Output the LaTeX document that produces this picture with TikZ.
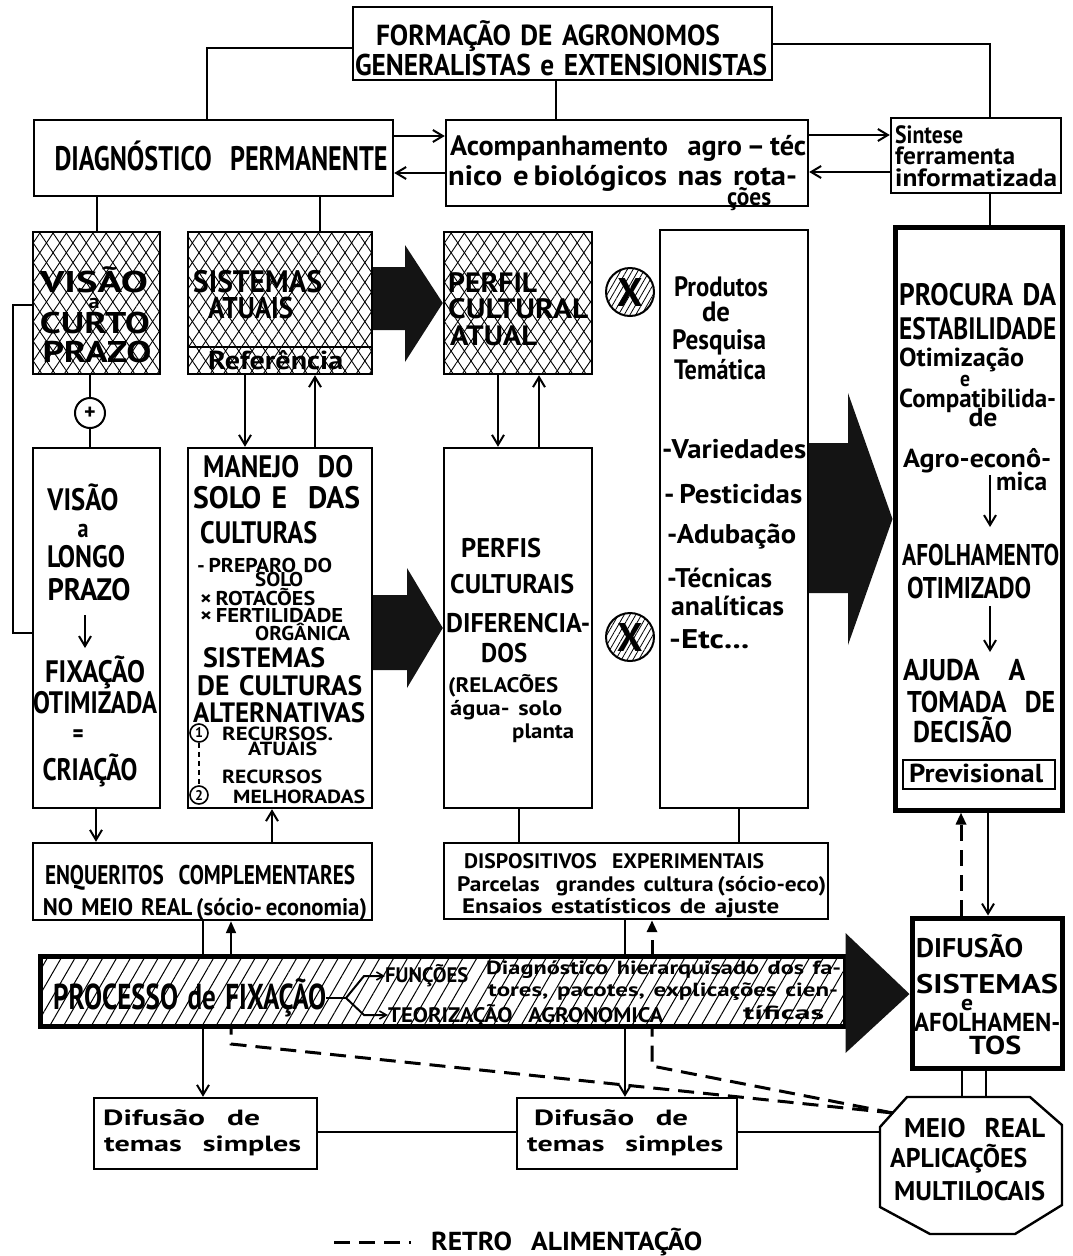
\documentclass[tikz,border=0pt]{standalone}
\usepackage{fontspec}
\setmainfont{PT Sans}
\usetikzlibrary{arrows.meta,patterns.meta,fit,calc}

% text set at a given size and squeezed to a given width
\newlength\fitlen
\newcommand\fitw[2]{\settowidth\fitlen{#2}\pgfmathsetmacro\fitr{#1/\fitlen}\scalebox{\fitr}[1]{#2}}
\newcommand\wsp{\hspace{0.35em}}
% \putc{name}{x centre}{baseline}{size}{width}{text}, \putl with left edge
\newcommand\putc[6]{\node[anchor=base,inner sep=0pt] (#1) at (#2,#3) {\fontsize{#4}{#4}\selectfont\bfseries\fitw{#5}{#6}};}
\newcommand\putl[6]{\node[anchor=base west,inner sep=0pt] (#1) at (#2,#3) {\fontsize{#4}{#4}\selectfont\bfseries\fitw{#5}{#6}};}

\tikzset{
  ln/.style={line width=2pt},
  arr/.style={ln,-{Straight Barb[length=10pt,width=12pt,line width=2pt]}},
  arrs/.style={ln,-{Triangle[length=12pt,width=10pt]}},
  fb/.style={line width=3pt,dash pattern=on 16pt off 9pt},
  box/.style={draw,line width=2.4pt,inner sep=0pt},
  tbox/.style={draw,line width=5pt,inner sep=0pt},
  xhatch/.style={postaction={pattern={Lines[angle=56,distance=11pt,line width=0.9pt]}},
                 postaction={pattern={Lines[angle=-56,distance=11pt,line width=0.9pt]}}},
  shatch/.style={pattern={Lines[angle=60,distance=12pt,line width=1pt]}},
  bigarrow/.style={fill=black!92},
}

\begin{document}
\begin{tikzpicture}[x=1pt,y=-1pt]
\fill[white] (0,0) rectangle (1072,1256);
\useasboundingbox (0,0) rectangle (1072,1256);

% ---------- boxes ----------
\node[box,fit={(353,7)(772,80)}] (top) {};
\node[box,fit={(34,120)(393,196)}] (diag) {};
\node[box,fit={(446,120)(808,206)}] (acomp) {};
\node[box,fit={(891,118)(1061,193)}] (sint) {};

\node[box,xhatch,fit={(33,232)(160,374)}] (vcurto) {};
\node[box,xhatch,fit={(188,232)(372,374)}] (sist) {};
\node[box,xhatch,fit={(444,232)(592,374)}] (pcult) {};
\node[box,fit={(660,230)(808,808)}] (prod) {};
\node[tbox,fit={(895,227)(1062,810)}] (proc) {};

\node[box,fit={(33,448)(160,808)}] (vlongo) {};
\node[box,fit={(188,448)(372,808)}] (manejo) {};
\node[box,fit={(444,448)(592,808)}] (perfis) {};

\node[box,fit={(33,843)(372,920)}] (enq) {};
\node[box,fit={(444,843)(828,919)}] (disp) {};
\node[tbox,fit={(912,918)(1062,1068)}] (difus) {};

\node[box,fit={(94,1098)(317,1169)}] (dif1) {};
\node[box,fit={(517,1098)(737,1169)}] (dif2) {};

% real-environment octagon
\draw[box] (907,1097) -- (1030,1097) -- (1062,1125) -- (1062,1205) -- (1015,1234)
  -- (930,1234) -- (880,1207) -- (880,1127) -- cycle;
\node[inner sep=0pt,fit={(880,1097)(1062,1234)}] (oct) {};
\coordinate (fbend) at (893,1113);

% reference strip under current systems
\draw[ln] (sist.west |- 0,347) -- (sist.east |- 0,347);

% circles
\node[draw,circle,line width=2pt,minimum size=30pt,inner sep=0pt,fill=white] (plus) at (90,413) {};
\node (plust) at (plus) {\fontsize{22}{22}\selectfont\bfseries +};
\node[draw,circle,line width=2pt,minimum size=48pt,inner sep=0pt,
      pattern={Lines[angle=60,distance=5pt,line width=0.8pt]}] (cx1) at (630,292) {};
\node (cx1t) at (cx1) {\fontsize{40}{40}\selectfont\bfseries X};
\node[draw,circle,line width=2pt,minimum size=48pt,inner sep=0pt,
      pattern={Lines[angle=60,distance=5pt,line width=0.8pt]}] (cx2) at (630,637) {};
\node (cx2t) at (cx2) {\fontsize{40}{40}\selectfont\bfseries X};

% prevision box
\node[box,line width=2pt,fit={(903,760)(1055,789)}] (prev) {};

% ---------- big arrows ----------
\fill[bigarrow] (sist.east |- 0,267) -- (405,267) -- (405,245) -- (pcult.west |- 0,303)
  -- (405,362) -- (405,330) -- (sist.east |- 0,330) -- cycle;
\fill[bigarrow] (manejo.east |- 0,595) -- (407,595) -- (407,568) -- (perfis.west |- 0,628)
  -- (407,688) -- (407,670) -- (manejo.east |- 0,670) -- cycle;
\fill[bigarrow] (prod.east |- 0,443) -- (848,443) -- (848,393) -- (proc.west |- 0,519)
  -- (848,645) -- (848,593) -- (prod.east |- 0,593) -- cycle;

% ---------- connectors ----------
\draw[ln] (top.west |- 0,48) -| (diag.north -| 207,0);
\draw[ln] (top.south -| 556,0) -- (acomp.north -| 556,0);
\draw[ln] (top.east |- 0,44) -| (sint.north -| 990,0);
\draw[arr] (diag.east |- 0,136) -- (acomp.west |- 0,136);
\draw[arr] (acomp.west |- 0,173) -- (diag.east |- 0,173);
\draw[arr] (acomp.east |- 0,135) -- (sint.west |- 0,135);
\draw[arr] (sint.west |- 0,172) -- (acomp.east |- 0,172);
\draw[ln] (diag.south -| 97,0) -- (vcurto.north -| 97,0);
\draw[ln] (diag.south -| 320,0) -- (sist.north -| 320,0);
\draw[ln] (sint.south -| 990,0) -- (proc.north -| 990,0);
\draw[ln] (vcurto.south -| 90,0) -- (plus);
\draw[ln] (plus) -- (vlongo.north -| 90,0);
\draw[ln] (vcurto.west |- 0,305) -- (13,305) |- (vlongo.west |- 0,633);
\draw[arr] (sist.south -| 245,0) -- (manejo.north -| 245,0);
\draw[arr] (manejo.north -| 315,0) -- (sist.south -| 315,0);
\draw[arr] (pcult.south -| 498,0) -- (perfis.north -| 498,0);
\draw[arr] (perfis.north -| 539,0) -- (pcult.south -| 539,0);
\draw[arr] (vlongo.south -| 96,0) -- (enq.north -| 96,0);
\draw[arr] (enq.north -| 272,0) -- (manejo.south -| 272,0);
\draw[ln] (perfis.south -| 519,0) -- (disp.north -| 519,0);
\draw[ln] (prod.south -| 739,0) -- (disp.north -| 739,0);
\draw[arr] (proc.south -| 988,0) -- (difus.north -| 988,0);
\draw[fb,-{Triangle[length=12pt,width=10pt]}] (difus.north -| 961,0) -- (proc.south -| 961,0);
\draw[ln] (difus.south -| 962,0) -- (oct.north -| 962,0);
\draw[ln] (difus.south -| 986,0) -- (oct.north -| 986,0);

% feedback from the real environment
\draw[fb] (fbend) -- (231,1044) -- (231,1026);
\draw[fb] (fbend) -- (652,1066) -- (652,1026);

% ---------- fixation process bar ----------
\node[tbox,fit={(40,956)(845,1026)},preaction={fill=white},shatch] (bar) {};
\fill[bigarrow] (bar.east |- 0,933) -- (difus.west |- 0,994) -- (bar.east |- 0,1053) -- cycle;
\draw[ln] (enq.south -| 203,0) -- (bar.north -| 203,0);
\draw[arrs] (bar.north -| 231,0) -- (enq.south -| 231,0);
\draw[ln] (disp.south -| 625,0) -- (bar.north -| 625,0);
\draw[fb,-{Triangle[length=12pt,width=10pt]}] (bar.north -| 652,0) -- (disp.south -| 652,0);
\draw[arr] (bar.south -| 203,0) -- (dif1.north -| 203,0);
\draw[arr] (bar.south -| 625,0) -- (dif2.north -| 625,0);
\draw[ln] (dif1.east |- 0,1132) -- (dif2.west |- 0,1132);
\draw[ln] (dif2.east |- 0,1132) -- (oct.west |- 0,1132);

% legend
\coordinate (lgA) at (334,1242);
\coordinate (lgB) at (411,1242);
\draw[fb] (lgA) -- (lgB);

% ---------- texts ----------
\putc{tA}{548}{45}{29}{344}{FORMAÇÃO\wsp DE\wsp AGRONOMOS}
\putc{tB}{561}{75}{30}{412}{GENERALISTAS\wsp e\wsp EXTENSIONISTAS}
\putc{dg}{221}{170}{34}{333}{DIAGNÓSTICO\wsp\wsp PERMANENTE}
\putl{ac1}{450}{155}{28}{356}{Acompanhamento\wsp\wsp agro\,–\,téc}
\putl{ac2}{448}{185}{28}{349}{nico\wsp e\,biológicos\wsp nas\wsp rota-}
\putl{ac3}{727}{205}{25}{44}{ções}
\putl{si1}{895}{143}{25}{68}{Sintese}
\putl{si2}{895}{164}{25}{120}{ferramenta}
\putl{si3}{895}{186}{25}{162}{informatizada}

\putc{vc1}{94}{292}{30}{108}{VISÃO}
\putc{vc2}{94}{308}{20}{11}{a}
\putc{vc3}{95}{333}{30}{110}{CURTO}
\putc{vc4}{97}{362}{30}{109}{PRAZO}
\putl{sa1}{193}{292}{31}{129}{SISTEMAS}
\putl{sa2}{208}{318}{30}{85}{ATUAIS}
\putl{sa3}{208}{369}{26}{135}{Referência}
\putl{pc1}{448}{292}{28}{89}{PERFIL}
\putl{pc2}{448}{318}{28}{140}{CULTURAL}
\putl{pc3}{450}{345}{28}{87}{ATUAL}

\putc{pr1}{721}{296}{28}{94}{Produtos}
\putc{pr2}{716}{321}{28}{28}{de}
\putc{pr3}{719}{349}{28}{94}{Pesquisa}
\putc{pr4}{720}{379}{28}{92}{Temática}
\putl{pl1}{662}{458}{27}{144}{-Variedades}
\putl{pl2}{664}{503}{27}{138}{-\,Pesticidas}
\putl{pl3}{667}{543}{27}{129}{-Adubação}
\putl{pl4}{667}{587}{27}{105}{-Técnicas}
\putl{pl5}{671}{615}{27}{113}{analíticas}
\putl{pl6}{669}{648}{27}{80}{-Etc...}

\putl{q1}{899}{305}{31}{157}{PROCURA\wsp DA}
\putl{q2}{899}{339}{31}{157}{ESTABILIDADE}
\putl{q3}{899}{366}{26}{125}{Otimização}
\putc{q4}{965}{386}{22}{10}{e}
\putl{q5}{899}{407}{26}{157}{Compatibilida-}
\putc{q6}{983}{426}{26}{29}{de}
\putl{q7}{903}{467}{26}{148}{Agro-econô-}
\putl{q8}{996}{490}{26}{51}{mica}
\putl{q9}{902}{565}{30}{157}{AFOLHAMENTO}
\putl{q10}{907}{598}{30}{124}{OTIMIZADO}
\putl{q11}{903}{680}{30}{122}{AJUDA\wsp\wsp\wsp A}
\putl{q12}{907}{712}{30}{148}{TOMADA\wsp\wsp DE}
\putl{q13}{913}{742}{30}{99}{DECISÃO}
\putl{q14}{909}{782}{26}{134}{Previsional}
\coordinate (qa1) at (990,475);
\coordinate (qa2) at (990,527);
\draw[arr] (qa1) -- (qa2);
\coordinate (qa3) at (990,606);
\coordinate (qa4) at (990,652);
\draw[arr] (qa3) -- (qa4);

\putc{vl1}{83}{510}{31}{71}{VISÃO}
\putc{vl2}{83}{537}{26}{11}{a}
\putc{vl3}{86}{567}{31}{78}{LONGO}
\putc{vl4}{89}{600}{31}{83}{PRAZO}
\coordinate (va1) at (85,615);
\coordinate (va2) at (85,648);
\draw[arr] (va1) -- (va2);
\putc{vl5}{95}{682}{31}{100}{FIXAÇÃO}
\putc{vl6}{95}{713}{31}{124}{OTIMIZADA}
\putc{vl7}{78}{742}{26}{11}{=}
\putc{vl8}{90}{780}{31}{95}{CRIAÇÃO}

\putl{m1}{203}{477}{31}{150}{MANEJO\wsp\wsp DO}
\putl{m2}{193}{508}{31}{167}{SOLO\wsp E\wsp\wsp DAS}
\putl{m3}{200}{543}{31}{117}{CULTURAS}
\putl{m4}{197}{572}{20}{135}{-\,PREPARO\wsp DO}
\putl{m5}{255}{586}{20}{48}{SOLO}
\putl{m6}{200}{605}{20}{115}{×\,ROTACÕES}
\putl{m7}{200}{622}{20}{143}{×\,FERTILIDADE}
\putl{m8}{255}{640}{20}{95}{ORGÂNICA}
\putl{m9}{203}{667}{28}{122}{SISTEMAS}
\putl{m10}{197}{695}{28}{165}{DE\wsp CULTURAS}
\putl{m11}{193}{722}{28}{172}{ALTERNATIVAS}
\putl{m12}{222}{740}{19}{111}{RECURSOS.}
\putl{m13}{248}{755}{19}{69}{ATUAIS}
\putl{m14}{222}{783}{19}{100}{RECURSOS}
\putl{m15}{233}{803}{19}{132}{MELHORADAS}
\node[draw,circle,line width=1.6pt,minimum size=18pt,inner sep=0pt] (n1) at (199,733) {\fontsize{14}{14}\selectfont\bfseries 1};
\node[draw,circle,line width=1.6pt,minimum size=18pt,inner sep=0pt] (n2) at (199,795) {\fontsize{14}{14}\selectfont\bfseries 2};
\draw[line width=1.5pt,dash pattern=on 5pt off 4pt] (n1) -- (n2);

\putl{pf1}{461}{557}{27}{80}{PERFIS}
\putl{pf2}{450}{593}{27}{124}{CULTURAIS}
\putl{pf3}{446}{632}{27}{144}{DIFERENCIA-}
\putl{pf4}{481}{662}{27}{46}{DOS}
\putl{pf5}{448}{692}{21}{110}{(RELACÕES}
\putl{pf6}{450}{715}{21}{112}{água-\wsp solo}
\putl{pf7}{512}{738}{21}{62}{planta}

\putc{e1}{200}{884}{27}{310}{ENQUERITOS\wsp\wsp COMPLEMENTARES}
\putc{e2}{205}{915}{24}{324}{NO\wsp MEIO\wsp REAL\,(sócio-\,economia)}
\putl{dp1}{464}{868}{21}{300}{DISPOSITIVOS\wsp\wsp EXPERIMENTAIS}
\putl{dp2}{457}{891}{21}{369}{Parcelas\wsp\wsp grandes\wsp cultura\,(sócio-eco)}
\putl{dp3}{462}{913}{21}{317}{Ensaios\wsp estatísticos\wsp de\wsp ajuste}

\putl{fx}{53}{1009}{36}{273}{PROCESSO\wsp de\wsp FIXAÇÃO}
\putl{fn}{385}{982}{21}{83}{FUNÇÕES}
\putl{b1}{486}{974}{19}{355}{Diagnóstico\wsp hierarquisado\wsp dos\wsp fa-}
\putl{b2}{488}{996}{19}{350}{tores,\wsp pacotes,\wsp explicações\wsp cien-}
\putl{tz}{388}{1022}{21}{275}{TEORIZAÇÃO\wsp\wsp AGRONOMICA}
\putl{b3}{743}{1019}{19}{81}{tíficas}
\coordinate (fk) at (346,998);
\draw[ln] (fx.east |- fk) -- (fk);
\draw[ln,-{Straight Barb[length=7pt,width=8pt,line width=1.6pt]}] (fk) -- (364,976) -- (fn.west |- 0,976);
\draw[ln,-{Straight Barb[length=7pt,width=8pt,line width=1.6pt]}] (fk) -- (364,1015) -- (tz.west |- 0,1015);

\putl{df1}{916}{957}{27}{107}{DIFUSÃO}
\putl{df2}{916}{993}{27}{142}{SISTEMAS}
\putc{df3}{967}{1010}{22}{12}{e}
\putl{df4}{914}{1031}{26}{146}{AFOLHAMEN-}
\putl{df5}{969}{1054}{26}{52}{TOS}

\putl{d11}{103}{1125}{22}{157}{Difusão\wsp\wsp de}
\putl{d12}{104}{1151}{22}{197}{temas\wsp\wsp simples}
\putl{d21}{534}{1125}{22}{154}{Difusão\wsp\wsp de}
\putl{d22}{527}{1151}{22}{196}{temas\wsp\wsp simples}

\putl{o1}{904}{1137}{27}{141}{MEIO\wsp\wsp REAL}
\putl{o2}{890}{1167}{27}{137}{APLICAÇÕES}
\putl{o3}{894}{1200}{27}{151}{MULTILOCAIS}

\putl{lg}{431}{1250}{26}{271}{RETRO\wsp\wsp ALIMENTAÇÃO}
\end{tikzpicture}
\end{document}
